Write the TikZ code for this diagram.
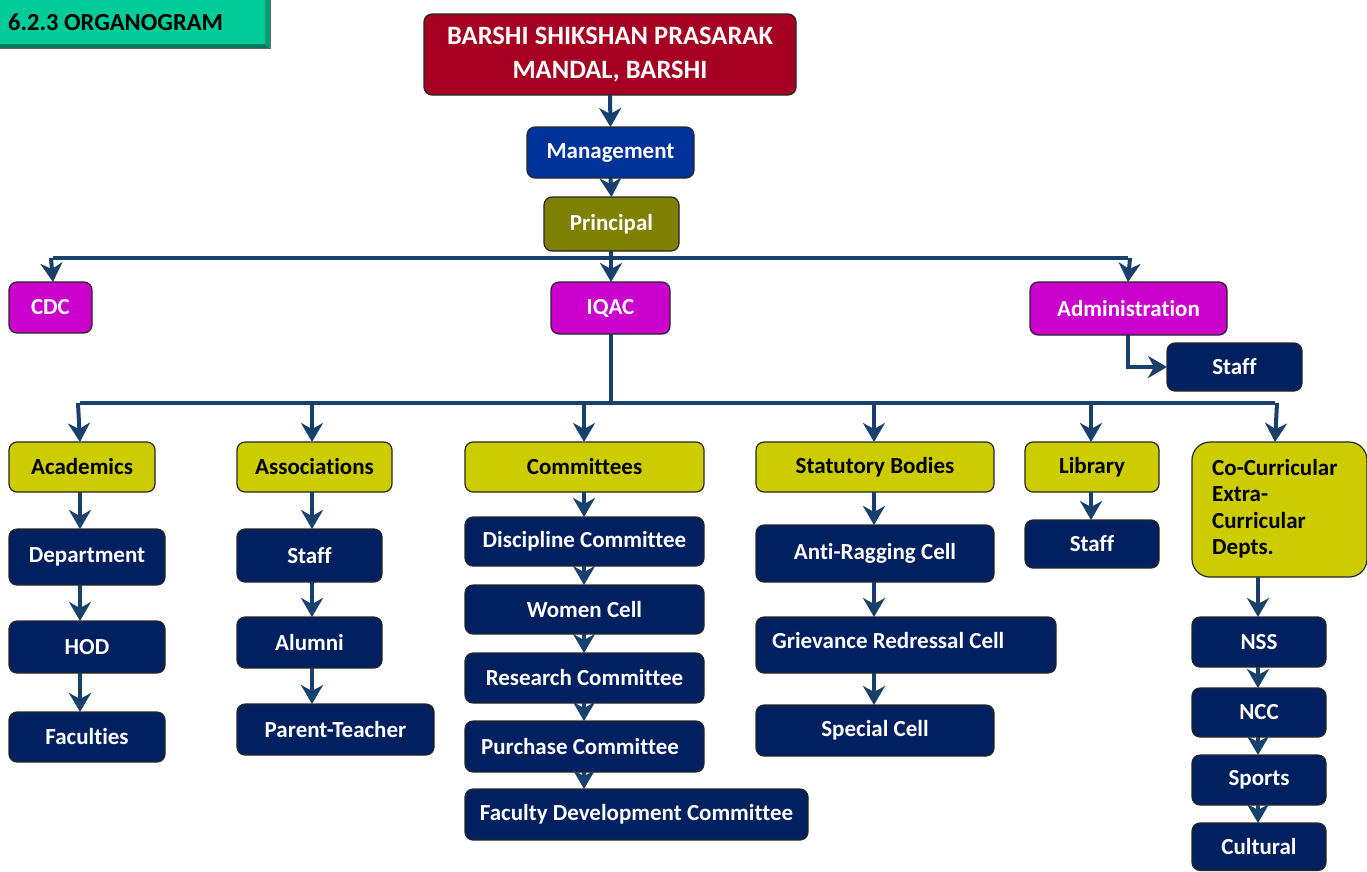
\documentclass[tikz,border=0pt]{standalone}
\usepackage{fontspec}
\setmainfont{Carlito}[Ligatures=NoCommon]
\usetikzlibrary{arrows.meta}
\definecolor{linec}{HTML}{17406D}
\definecolor{cred}{HTML}{A50021}
\definecolor{cblue}{HTML}{003399}
\definecolor{colive}{HTML}{808000}
\definecolor{cmag}{HTML}{CC00CC}
\definecolor{cyel}{HTML}{CCCC00}
\definecolor{cnavy}{HTML}{002060}
\definecolor{cteal}{HTML}{00CC99}
\definecolor{ctealD}{HTML}{009E76}
\definecolor{ctealDD}{HTML}{007A5C}
\tikzset{
  bx/.style={draw=black!85, line width=1.2pt, rounded corners=8pt, inner sep=0pt, outer sep=0pt,
    font=\fontsize{23}{27}\selectfont\bfseries, align=center},
  redbox/.style={bx, fill=cred, text=white},
  bluebox/.style={bx, fill=cblue, text=white},
  olivebox/.style={bx, fill=colive, text=white},
  magbox/.style={bx, fill=cmag, text=white},
  yelbox/.style={bx, fill=cyel, text=black},
  navybox/.style={bx, fill=cnavy, text=white},
  arr/.style={draw=linec, line width=4pt, -{Stealth[length=19pt,width=22pt,inset=6pt]}},
  bus/.style={draw=linec, line width=4pt},
  lbl/.style={inner sep=0pt, font=\fontsize{23}{27}\selectfont\bfseries},
}
\newcommand\mybox[7]{\node[#6, minimum width={#4-#2}, minimum height={#5-#3}] (#1) at ({(#2+#4)/2},{(#3+#5)/2}) {#7};}
\begin{document}
\begin{tikzpicture}[x=1pt,y=-1pt]
\useasboundingbox (0,0) rectangle (1367,871);
% title
\fill[ctealDD] (0,44) -- (265,44) -- (270,48) -- (0,48) -- cycle;
\fill[ctealD] (265,0) -- (270,0) -- (270,48) -- (265,44) -- cycle;
\fill[cteal] (0,0) rectangle (265,44);
\draw[black!60, line width=1pt] (0,48.5) -- (270.5,48.5) -- (270.5,0);
\node[lbl, anchor=west, text=black, font=\fontsize{24.5}{28}\selectfont\bfseries] (title) at (8,22) {6.2.3 ORGANOGRAM};
% top chain
\mybox{bspm}{424}{14}{796}{95}{redbox,font=\fontsize{26.5}{34}\selectfont\bfseries}{BARSHI SHIKSHAN PRASARAK\\MANDAL, BARSHI}
\mybox{mgmt}{527}{127}{694}{178}{bluebox}{Management}
\mybox{prin}{544}{197}{679}{251}{olivebox}{Principal}
\draw[arr] (bspm.south) -- (mgmt.north);
\draw[arr] (mgmt.south) -- (prin.north);
% level 1
\mybox{cdc}{9}{282}{92}{333}{magbox}{CDC}
\mybox{iqac}{551}{282}{670}{334}{magbox}{IQAC}
\mybox{adm}{1030}{282}{1227}{335}{magbox}{Administration}
\mybox{astaff}{1167}{343}{1302}{391}{navybox}{Staff}
\coordinate (b1L) at (53,258);
\coordinate (b1R) at (1128,258);
\coordinate (b1M) at (611,258);
\draw[bus] (prin.south -| b1M) -- (b1M);
\draw[bus] (b1L) -- (b1R);
\draw[arr] ([xshift=-2pt]b1L) -- (b1L |- cdc.north);
\draw[arr] (b1M) -- (b1M |- iqac.north);
\draw[arr] ([xshift=2pt]b1R) -- (b1R |- adm.north);
\draw[arr] (b1R |- adm.south) |- (astaff.west);
% level 2 bus
\coordinate (b2L) at (80,403);
\coordinate (b2R) at (1275,403);
\coordinate (b2M) at (611,403);
\coordinate (c2) at (312,403);
\coordinate (c3) at (584,403);
\coordinate (c4) at (874,403);
\coordinate (c5) at (1091,403);
\draw[bus] (iqac.south -| b2M) -- (b2M);
\draw[bus] (b2L) -- (b2R);
\mybox{acad}{9}{442}{155}{492}{yelbox}{Academics}
\mybox{assoc}{237}{442}{392}{492}{yelbox}{Associations}
\mybox{comm}{465}{442}{704}{492}{yelbox}{Committees}
\mybox{stat}{756}{442}{994}{492}{yelbox}{Statutory Bodies}
\mybox{lib}{1025}{442}{1159}{492}{yelbox}{Library}
\mybox{cocur}{1192}{442}{1367}{577}{yelbox,rounded corners=18pt}{}
\node[lbl, anchor=north west, align=left, font=\fontsize{23}{26.5}\selectfont\bfseries] (cocurtxt) at (1212,459) {Co-Curricular\\Extra-\\Curricular\\Depts.};
\draw[arr] ([xshift=-2pt]b2L) -- (b2L |- acad.north);
\draw[arr] (c2) -- (c2 |- assoc.north);
\draw[arr] (c3) -- (c3 |- comm.north);
\draw[arr] (c4) -- (c4 |- stat.north);
\draw[arr] (c5) -- (c5 |- lib.north);
\draw[arr] ([xshift=2pt]b2R) -- (b2R |- cocur.north);
% academics column
\mybox{dept}{9}{529}{165}{585}{navybox}{Department}
\mybox{hod}{9}{621}{165}{673}{navybox}{HOD}
\mybox{fac}{9}{712}{165}{762}{navybox}{Faculties}
\coordinate (k1) at (80,492);
\draw[arr] (k1) -- (k1 |- dept.north);
\draw[arr] (k1 |- dept.south) -- (k1 |- hod.north);
\draw[arr] (k1 |- hod.south) -- (k1 |- fac.north);
% associations column
\mybox{sstaff}{237}{529}{382}{582}{navybox}{Staff}
\mybox{alum}{237}{617}{382}{668}{navybox}{Alumni}
\mybox{pt}{237}{704}{434}{755}{navybox}{Parent-Teacher}
\draw[arr] (c2 |- assoc.south) -- (c2 |- sstaff.north);
\draw[arr] (c2 |- sstaff.south) -- (c2 |- alum.north);
\draw[arr] (c2 |- alum.south) -- (c2 |- pt.north);
% committees column
\mybox{disc}{465}{517}{704}{566}{navybox}{Discipline Committee}
\mybox{women}{465}{585}{704}{634}{navybox}{Women Cell}
\mybox{res}{465}{653}{704}{703}{navybox}{Research Committee}
\mybox{pur}{465}{721}{704}{772}{navybox}{Purchase Committee\hspace{9pt}}
\mybox{fdc}{465}{789}{808}{840}{navybox}{Faculty Development Committee}
\draw[arr] (c3 |- comm.south) -- (c3 |- disc.north);
\draw[arr] (c3 |- disc.south) -- (c3 |- women.north);
\draw[arr] (c3 |- women.south) -- (c3 |- res.north);
\draw[arr] (c3 |- res.south) -- (c3 |- pur.north);
\draw[arr] (c3 |- pur.south) -- (c3 |- fdc.north);
% statutory column
\mybox{anti}{756}{525}{994}{582}{navybox}{Anti-Ragging Cell}
\mybox{griev}{756}{617}{1056}{673}{navybox}{}
\node[lbl, anchor=west, text=white] (grievtxt) at (772,641) {Grievance Redressal Cell};
\mybox{spec}{756}{705}{994}{756}{navybox}{Special Cell}
\draw[arr] (c4 |- stat.south) -- (c4 |- anti.north);
\draw[arr] (c4 |- anti.south) -- (c4 |- griev.north);
\draw[arr] (c4 |- griev.south) -- (c4 |- spec.north);
% library
\mybox{lstaff}{1025}{520}{1159}{568}{navybox}{Staff}
\draw[arr] (c5 |- lib.south) -- (c5 |- lstaff.north);
% co-curricular column
\coordinate (c6) at (1258,577);
\mybox{nss}{1192}{617}{1326}{667}{navybox}{NSS}
\mybox{ncc}{1192}{688}{1326}{737}{navybox}{NCC}
\mybox{sports}{1192}{755}{1326}{805}{navybox}{Sports}
\mybox{cult}{1192}{823}{1326}{870.4}{navybox}{Cultural}
\draw[arr] (c6 |- cocur.south) -- (c6 |- nss.north);
\draw[arr] (c6 |- nss.south) -- (c6 |- ncc.north);
\draw[arr] (c6 |- ncc.south) -- (c6 |- sports.north);
\draw[arr] (c6 |- sports.south) -- (c6 |- cult.north);
\end{tikzpicture}
\end{document}
